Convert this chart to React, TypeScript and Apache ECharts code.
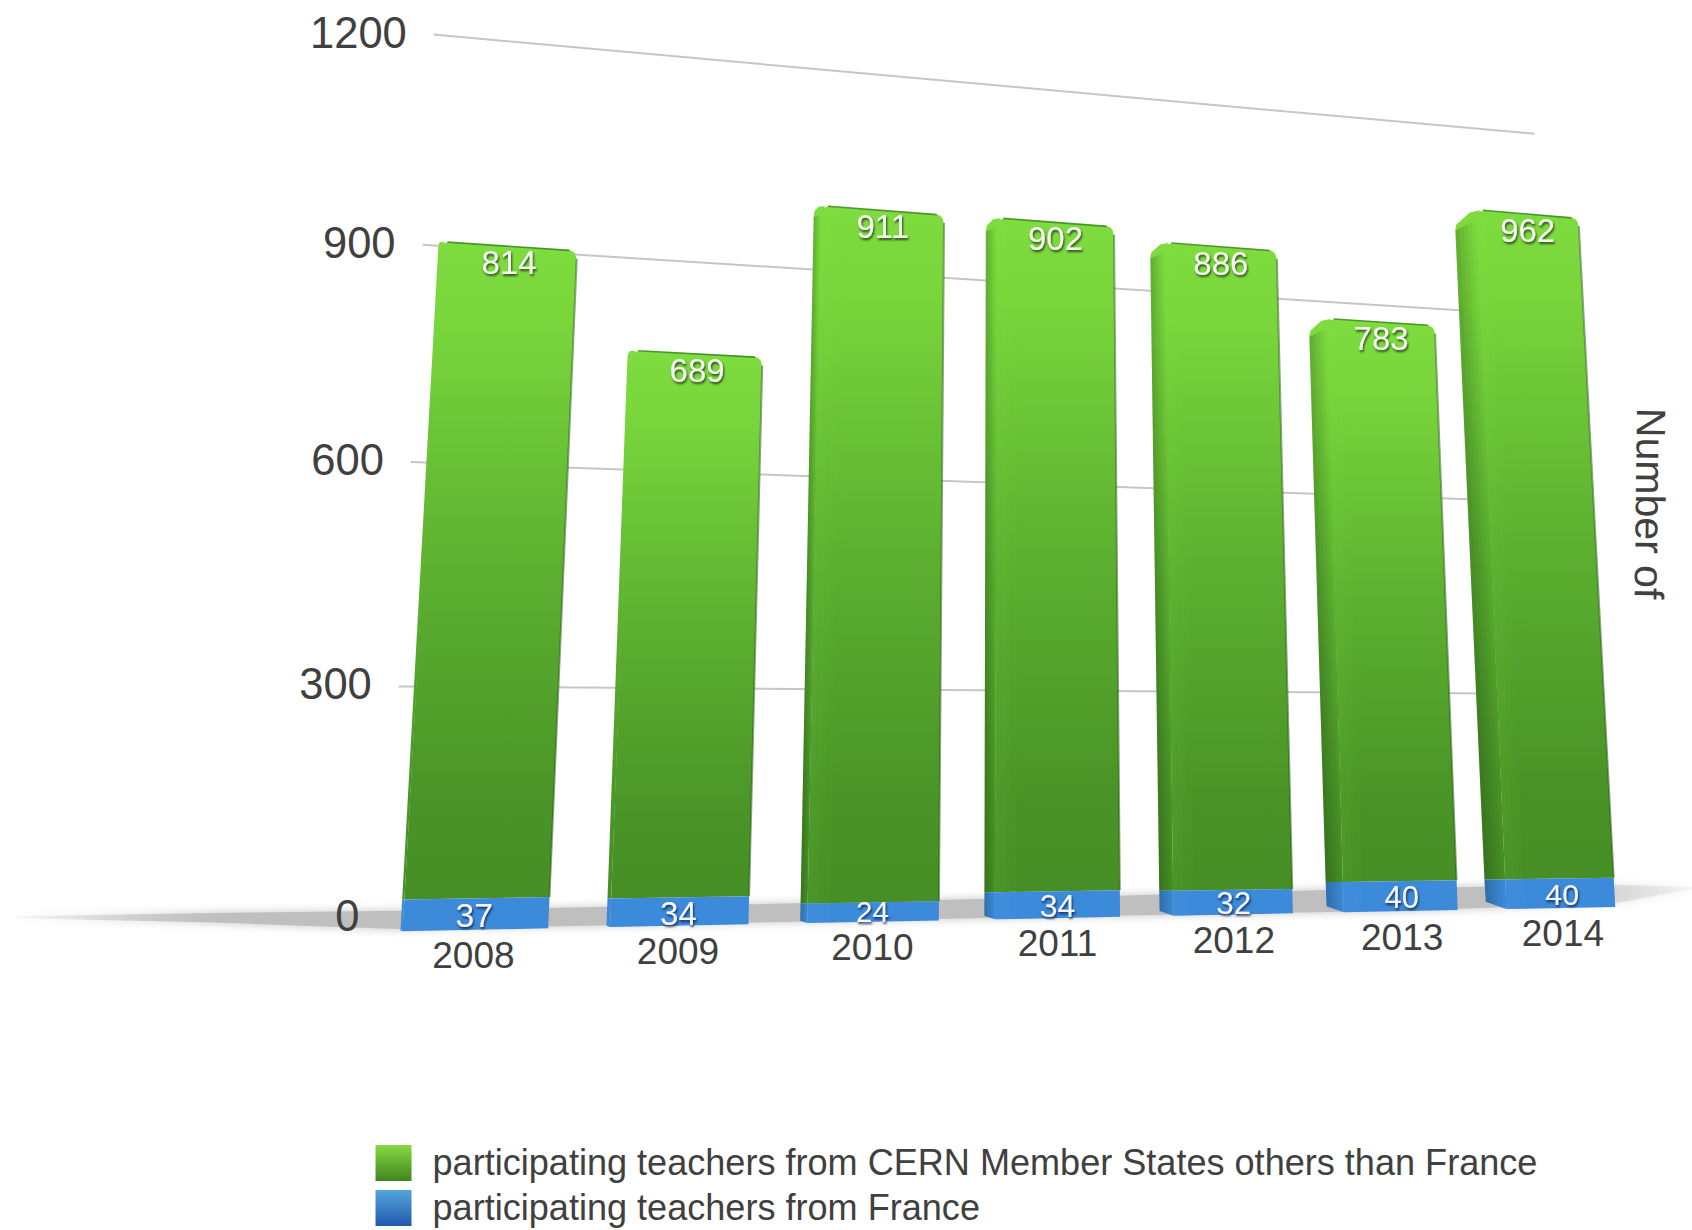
import React, { useEffect, useRef } from "react";
import * as echarts from "echarts";

const years = ["2008", "2009", "2010", "2011", "2012", "2013", "2014"];
const memberStates = [814, 689, 911, 902, 886, 783, 962];
const france = [37, 34, 24, 34, 32, 40, 40];
const yTicks = [0, 300, 600, 900, 1200];
const seriesMember = "participating teachers from CERN Member States others than France";
const seriesFrance = "participating teachers from France";
const sideTitle = "Number of";

const FONT = '"Liberation Sans", Arial, sans-serif';
const TEXT = "#404040";
const K = 1692 / 1568;
const GRID = { left: 100, top: 100, width: 1400, height: 1000 };
const Y_MAX = 1200;
type P = [number, number];

function quad(p00: P, p10: P, p01: P, p11: P) {
  const [x0, y0] = p00, [x1, y1] = p10, [x2, y2] = p11, [x3, y3] = p01;
  const sx = x0 - x1 + x2 - x3, sy = y0 - y1 + y2 - y3;
  const dx1 = x1 - x2, dx2 = x3 - x2, dy1 = y1 - y2, dy2 = y3 - y2;
  const det = dx1 * dy2 - dx2 * dy1;
  const g = (sx * dy2 - dx2 * sy) / det, h = (dx1 * sy - sx * dy1) / det;
  const a = x1 - x0 + g * x1, b = x3 - x0 + h * x3, d = y1 - y0 + g * y1, e = y3 - y0 + h * y3;
  return (s: number, t: number): P => {
    const w = g * s + h * t + 1;
    return [((a * s + b * t + x0) / w) * K, ((d * s + e * t + y0) / w) * K];
  };
}

// perspective planes: t = 1 means the value 1000 on the bars' plane, 1200 on the back wall
const barPlane = quad([343, 863.6], [1518.5, 840], [386, 118], [1483.4, 205]);
const wallPlane = quad([358, 851], [1443, 826], [402, 32], [1422, 124]);

const vert = (c: [number, string][]) =>
  new echarts.graphic.LinearGradient(0, 0, 0, 1, c.map(([offset, color]) => ({ offset, color })));
const horiz = (c: [number, string][]) =>
  new echarts.graphic.LinearGradient(0, 0, 1, 0, c.map(([offset, color]) => ({ offset, color })));

const greenLegend = () => vert([[0, "#86d943"], [1, "#41851f"]]);
const blueLegend = () => vert([[0, "#53a6dc"], [1, "#2159ac"]]);

const lerp = (a: P, b: P, k: number): P => [a[0] + (b[0] - a[0]) * k, a[1] + (b[1] - a[1]) * k];
function curve(from: P, ctrl: P, to: P, n = 5): P[] {
  const out: P[] = [];
  for (let j = 0; j <= n; j++) {
    const u = j / n;
    out.push(lerp(lerp(from, ctrl, u), lerp(ctrl, to, u), u));
  }
  return out;
}

function barGeom(api: any) {
  const i = api.value(0);
  const cx = api.coord([i, 0])[0];
  const band = api.size([1, 0])[0];
  const sOf = (off: number) => (cx + off * band - GRID.left) / GRID.width;
  const tOf = (v: number) => ((GRID.top + GRID.height - api.coord([i, v])[1]) / GRID.height) * (Y_MAX / 1000);
  const half = 0.348;
  const s0 = sOf(-half), s1 = sOf(half), sc = sOf(0);
  const sw = K * (2 + 22 * Math.max(0, sc - 0.15));
  return { sOf, tOf, s0, s1, sc, sw };
}

function strips(a0: P, a1: P, b0: P, b1: P, n: number, color: (k: number) => string) {
  // a0-a1 is the outer edge, b0-b1 the inner one; flat bands avoid bounding-box gradient skew
  const out: any[] = [];
  for (let j = 0; j < n; j++) {
    const u = j / n, v = (j + 1) / n;
    out.push({
      type: "polygon",
      shape: { points: [lerp(a0, b0, u), lerp(a1, b1, u), lerp(a1, b1, v), lerp(a0, b0, v)] },
      style: { fill: color((j + 0.5) / n) },
    });
  }
  return out;
}

function seg(api: any, start: number, end: number, isTop: boolean, isBase: boolean, frontC: any, sideC: any, glow: string) {
  const { sOf, tOf, s0, s1, sw } = barGeom(api);
  const t0 = tOf(start), t1 = tOf(end);
  const bl = barPlane(s0, t0), br = barPlane(s1, t0), tl = barPlane(s0, t1), tr = barPlane(s1, t1);
  const r = 9;
  let front: P[];
  if (isTop) {
    front = [
      bl, br,
      ...curve([tr[0] - 0.2, tr[1] + r], [tr[0], tr[1]], [tr[0] - r, tr[1] - 0.8]),
      ...curve([tl[0] + r, tl[1] + 0.8], [tl[0], tl[1]], [tl[0], tl[1] + r]),
    ];
  } else {
    front = [bl, br, tr, tl];
  }
  const outerTop: P = [tl[0] - sw, tl[1] + (isTop ? sw * 0.7 : 0)];
  const outerBot: P = [bl[0] - sw, bl[1] - (isBase ? sw * 0.35 : 0)];
  const sidePts: P[] = isTop
    ? [bl, outerBot, [outerTop[0], outerTop[1] + 5], [outerTop[0] + 1, outerTop[1]], [tl[0] - sw * 0.3, tl[1] + sw * 0.12], [tl[0] + 4, tl[1] + 0.2], [tl[0] + 1, tl[1] + 10]]
    : [tl, bl, outerBot, outerTop];
  const innerTop = barPlane(sOf(-0.2), t1);
  const innerBot = barPlane(sOf(-0.2), t0);
  const topForStrip: P = [tl[0], tl[1] + (isTop ? 10 : 0)];
  const stripTop: P = [innerTop[0], innerTop[1] + (isTop ? 10 : 0)];
  const kids: any[] = [
    { type: "polygon", shape: { points: sidePts }, style: { fill: sideC } },
    { type: "polygon", shape: { points: front }, style: { fill: frontC } },
    ...(sw > 6
      ? strips(
          [outerTop[0], outerTop[1] + (isTop ? 6 : 0)], outerBot, topForStrip, bl, 5,
          (k) => `rgba(10,30,10,${(0.24 * (1 - k)).toFixed(3)})`
        )
      : []),
    ...(sw > 6
      ? strips(topForStrip, bl, stripTop, innerBot, 5, (k) => `${glow},${(0.09 * (1 - k)).toFixed(3)})`)
      : []),
  ];
  return { kids, tl, tr, bl, br };
}

function renderMember(_p: any, api: any) {
  const start = api.value(1), end = api.value(2);
  const fill = () => vert([[0, "#7fdc3f"], [0.12, "#79d63b"], [0.5, "#5cb030"], [0.85, "#4a9427"], [1, "#468e25"]]);
  const g = seg(api, start, end, true, false, fill(), fill(), "rgba(130,235,80");
  const { tOf, sc } = barGeom(api);
  const top = barPlane(sc, tOf(end));
  const kids = [
    ...g.kids,
    { type: "polyline", shape: { points: [[g.tr[0] + 0.2, g.tr[1] + 8], g.br] }, style: { stroke: "rgba(40,95,22,0.55)", lineWidth: 2, fill: "none" } },
    { type: "polyline", shape: { points: [[g.tl[0] + 7, g.tl[1] + 0.3], [g.tr[0] - 7, g.tr[1] - 0.3]] }, style: { stroke: "rgba(60,140,30,0.9)", lineWidth: 1.6, fill: "none" } },
    {
      type: "text", x: top[0], y: top[1] + 15 * K,
      style: {
        text: String(api.value(3)), font: `33px ${FONT}`, fill: "#f4f7f0", align: "center", verticalAlign: "middle",
        textShadowColor: "rgba(20,50,10,0.85)", textShadowBlur: 2, textShadowOffsetX: 1, textShadowOffsetY: 2,
      },
    },
  ];
  return { type: "group", children: kids };
}

function renderFrance(_p: any, api: any) {
  const start = api.value(1), end = api.value(2), i = api.value(0);
  const g = seg(api, start, end, false, true, "#3c8ada", "#3c8ada", "rgba(110,175,240");
  const { tOf, sc } = barGeom(api);
  const mid = barPlane(sc, tOf((start + end) / 2));
  const base = barPlane(sc, tOf(0));
  const short = end - start < 30;
  const size = (short ? 31 : 34) - 4 * sc;
  const dx = -3 + 5 * sc;
  return {
    type: "group",
    children: [
      ...g.kids,
      {
        type: "text", x: mid[0] + dx, y: mid[1] + (short ? -1 : 1.5),
        style: {
          text: String(api.value(3)), font: `${size}px ${FONT}`, fill: "#f2f6fb", align: "center", verticalAlign: "middle",
          textShadowColor: "rgba(10,30,70,0.85)", textShadowBlur: 2, textShadowOffsetX: 1, textShadowOffsetY: 2,
        },
      },
      {
        type: "text", x: base[0] + dx, y: base[1] + 24 * K,
        style: { text: years[i], font: `37px ${FONT}`, fill: TEXT, align: "center", verticalAlign: "middle" },
      },
    ],
  };
}

function renderWall(_p: any, api: any) {
  const v = api.value(1);
  const t = (GRID.top + GRID.height - api.coord([0, v])[1]) / GRID.height;
  const a = wallPlane(0, t), b = wallPlane(1, t);
  const kids: any[] = [
    {
      type: "text", x: a[0] - 25 * K, y: a[1] - 2,
      style: { text: String(v), font: `43.5px ${FONT}`, fill: TEXT, align: "right", verticalAlign: "middle" },
    },
  ];
  if (v > 0) {
    kids.unshift({ type: "polyline", shape: { points: [a, b] }, style: { stroke: "#c6c6c6", lineWidth: 2, fill: "none" } });
  }
  return { type: "group", children: kids };
}

// soft reflection strip the 3D floor casts behind the bars
const floorUpper: P[] = [[15, 849], [200, 846], [370, 844], [700, 838], [1000, 831], [1300, 823], [1500, 820], [1568, 822]];
const floorLower: P[] = [[1568, 824], [1497, 837], [1300, 844], [1000, 849], [700, 855], [370, 861], [200, 855], [15, 851]];

function renderFloor() {
  const pts = [...floorUpper, ...floorLower].map(([x, y]) => [x * K, y * K]);
  return {
    type: "polygon",
    shape: { points: pts },
    style: {
      fill: horiz([[0, "rgba(190,190,190,0.1)"], [0.12, "#bfbfbf"], [0.88, "#bfbfbf"], [1, "rgba(200,200,200,0.15)"]]),
      shadowBlur: 10,
      shadowColor: "#c4c4c4",
    },
  };
}

export default function App() {
  const ref = useRef<HTMLDivElement>(null);
  useEffect(() => {
    const chart = echarts.init(ref.current!, undefined, { renderer: "svg" });
    const base = france;
    chart.setOption({
      animation: false,
      backgroundColor: "#ffffff",
      grid: { ...GRID, containLabel: false },
      xAxis: { type: "category", data: years, show: false },
      yAxis: { type: "value", min: 0, max: Y_MAX, interval: 300, show: false },
      legend: {
        orient: "vertical",
        left: 348 * K,
        top: 1061 * K,
        padding: 0,
        itemWidth: 36,
        itemHeight: 36,
        itemGap: 9,
        selectedMode: false,
        icon: "rect",
        textStyle: { fontFamily: FONT, fontSize: 36.1, color: TEXT, padding: [2, 0, 0, 16] },
        data: [
          { name: seriesMember, itemStyle: { color: greenLegend() } },
          { name: seriesFrance, itemStyle: { color: blueLegend() } },
        ],
      },
      graphic: [
        {
          type: "text",
          x: 1651,
          y: 408,
          rotation: -Math.PI / 2 - 0.012,
          style: { text: sideTitle, font: `41px ${FONT}`, fill: TEXT, align: "left", verticalAlign: "middle" },
        },
      ],
      series: [
        {
          type: "custom", name: "floor", renderItem: renderFloor, silent: true,
          encode: { x: 0, y: 1 },
          data: [[0, 0]],
        },
        {
          type: "custom", name: "grid", renderItem: renderWall, silent: true,
          encode: { x: 0, y: 1 },
          data: yTicks.map((v) => [0, v]),
        },
        {
          type: "custom", name: seriesMember, renderItem: renderMember,
          itemStyle: { color: "#5cae2f" },
          encode: { x: 0, y: [1, 2] },
          data: memberStates.map((v, i) => [i, base[i], base[i] + v, v]),
        },
        {
          type: "custom", name: seriesFrance, renderItem: renderFrance,
          itemStyle: { color: "#3c8ada" },
          encode: { x: 0, y: [1, 2] },
          data: france.map((v, i) => [i, 0, v, v]),
        },
      ],
    });
    return () => chart.dispose();
  }, []);
  return <div ref={ref} style={{ position: "absolute", left: 0, top: 0, width: 1692, height: 1230 }} />;
}
